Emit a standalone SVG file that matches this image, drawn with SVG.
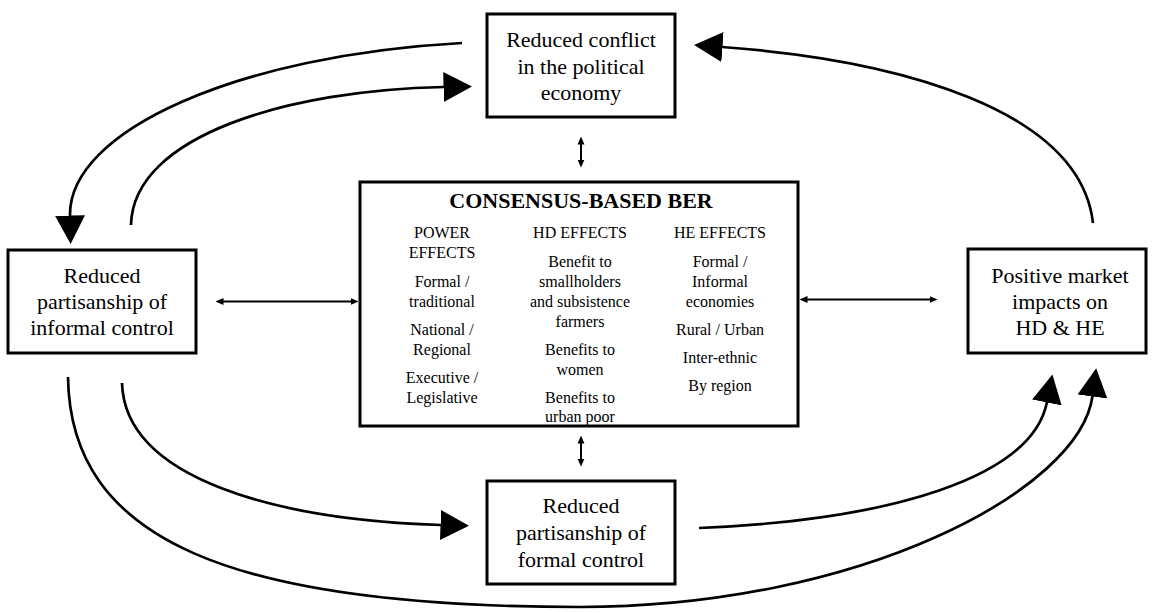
<svg xmlns="http://www.w3.org/2000/svg" width="1160" height="613" viewBox="0 0 1160 613">
<style>
.box{fill:#fff;stroke:#000;stroke-width:3}
.t{font-family:"Liberation Serif","Times New Roman",serif;font-size:22px;fill:#000;text-anchor:middle}
.c{font-family:"Liberation Serif","Times New Roman",serif;font-size:16px;fill:#000;text-anchor:middle}
.h{font-family:"Liberation Serif","Times New Roman",serif;font-size:22px;font-weight:bold;fill:#000;text-anchor:middle}
.big{fill:none;stroke:#000;stroke-width:2.7;marker-end:url(#big)}
.small{fill:none;stroke:#000;stroke-width:2;marker-start:url(#sm);marker-end:url(#sm)}
</style>
<defs>
<marker id="big" markerUnits="userSpaceOnUse" markerWidth="29" markerHeight="31" viewBox="0 0 29 31" refX="0.5" refY="15.5" orient="auto"><path d="M0,0.5 L28.5,15.5 L0,30.5 z" fill="#000"/></marker>
<marker id="sm" markerUnits="userSpaceOnUse" markerWidth="8" markerHeight="8" viewBox="0 0 8 8" refX="0.5" refY="4" orient="auto-start-reverse"><path d="M0,0.5 L8,4 L0,7.5 z" fill="#000"/></marker>
</defs>
<g id="connectors">
<path class="big" d="M462,43 C240,55 68,130 70,216"/>
<path class="big" d="M131,225 C133,135 290,90 444,87"/>
<path class="big" d="M1093,223 C1080,110 900,60 722,47"/>
<path class="big" d="M68,377 C70,540 230,607 580,607 C860,607 1080,490 1092.5,396"/>
<path class="big" d="M122,383 C125,480 280,520 441,525"/>
<path class="big" d="M699,528 C890,520 1032,478 1047,402"/>
<path class="small" d="M223,301.5 L351,301.5"/>
<path class="small" d="M807,299.5 L930,299.5"/>
<path class="small" d="M581,144 L581,160"/>
<path class="small" d="M581,443 L581,459"/>
</g>
<g id="top">
<rect class="box" x="487" y="14" width="188" height="103"/>
<text class="t" x="581" y="47">Reduced conflict</text>
<text class="t" x="581" y="73.5">in the political</text>
<text class="t" x="581" y="100">economy</text>
</g>
<g id="left">
<rect class="box" x="8" y="250" width="188" height="103"/>
<text class="t" x="102" y="283">Reduced</text>
<text class="t" x="102" y="309">partisanship of</text>
<text class="t" x="102" y="335">informal control</text>
</g>
<g id="right">
<rect class="box" x="968" y="249" width="178" height="104"/>
<text class="t" x="1060" y="283">Positive market</text>
<text class="t" x="1060" y="309">impacts on</text>
<text class="t" x="1060" y="335">HD &amp; HE</text>
</g>
<g id="bottom">
<rect class="box" x="487" y="481" width="188" height="103"/>
<text class="t" x="581" y="513">Reduced</text>
<text class="t" x="581" y="540">partisanship of</text>
<text class="t" x="581" y="567">formal control</text>
</g>
<g id="center">
<rect class="box" x="360" y="182" width="438" height="244"/>
<text class="h" x="581" y="208">CONSENSUS-BASED BER</text>
<text class="c" x="442" y="238">POWER</text>
<text class="c" x="442" y="258">EFFECTS</text>
<text class="c" x="442" y="287">Formal /</text>
<text class="c" x="442" y="307">traditional</text>
<text class="c" x="442" y="335">National /</text>
<text class="c" x="442" y="355">Regional</text>
<text class="c" x="442" y="383">Executive /</text>
<text class="c" x="442" y="403">Legislative</text>
<text class="c" x="580" y="238">HD EFFECTS</text>
<text class="c" x="580" y="267">Benefit to</text>
<text class="c" x="580" y="287">smallholders</text>
<text class="c" x="580" y="307">and subsistence</text>
<text class="c" x="580" y="327">farmers</text>
<text class="c" x="580" y="355">Benefits to</text>
<text class="c" x="580" y="375">women</text>
<text class="c" x="580" y="403">Benefits to</text>
<text class="c" x="580" y="422">urban poor</text>
<text class="c" x="720" y="238">HE EFFECTS</text>
<text class="c" x="720" y="267">Formal /</text>
<text class="c" x="720" y="287">Informal</text>
<text class="c" x="720" y="307">economies</text>
<text class="c" x="720" y="335">Rural / Urban</text>
<text class="c" x="720" y="363">Inter-ethnic</text>
<text class="c" x="720" y="391">By region</text>
</g>
</svg>
